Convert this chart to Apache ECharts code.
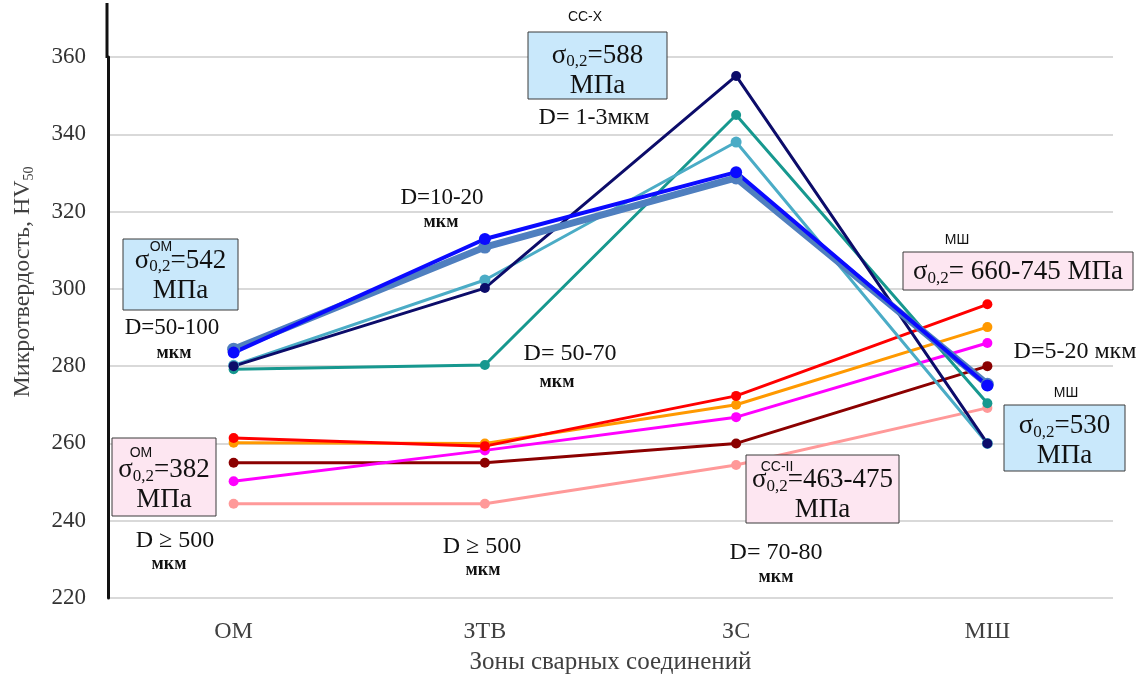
<!DOCTYPE html>
<html>
<head>
<meta charset="utf-8">
<title>Микротвердость</title>
<script src="https://cdn.jsdelivr.net/npm/echarts@6.0.0/dist/echarts.min.js"></script>
<style>
  html, body { margin: 0; padding: 0; background: #fff; }
  #chart { width: 1146px; height: 675px; }
</style>
</head>
<body>
<div id="chart"></div>
<script>
// зоны сварного соединения
const zones = ['ОМ', 'ЗТВ', 'ЗС', 'МШ']

// микротвердость HV50 по зонам
const navy = [280, 300.2, 355.1, 260]
const steel = [284.4, 310.8, 328.7, 275.3]
const blue = [283.5, 312.9, 330.2, 275]
const skyBlue = [280.2, 302.3, 338, 260]
const teal = [279.2, 280.3, 345, 270.4]
const red = [261.4, 259.3, 272.3, 296]
const orange = [260.2, 260, 270, 290.1]
const magenta = [250.2, 258.2, 266.8, 286]
const darkRed = [255, 255, 260, 280]
const pink = [244.4, 244.4, 254.4, 269.2]

const yMin = 220
const yMax = 360
const yStep = 20

const serif = '"Liberation Serif", "DejaVu Serif", serif'
const sans = '"Liberation Sans", Arial, sans-serif'

function line(name, data, color, width, symbolSize) {
  return {
    name: name,
    type: 'line',
    data: data,
    symbol: 'circle',
    symbolSize: symbolSize,
    lineStyle: { color: color, width: width },
    itemStyle: { color: color },
    emphasis: { disabled: true }
  }
}

function txt(x, y, text, size, bold) {
  return {
    type: 'text', x: x, y: y, z: 100,
    style: {
      text: text, fontFamily: serif, fontSize: size, fill: '#111',
      fontWeight: bold ? 'bold' : 'normal',
      align: 'center', verticalAlign: 'middle'
    }
  }
}

function sup(x, y, text) {
  return {
    type: 'text', x: x, y: y, z: 110,
    style: { text: text, fontFamily: sans, fontSize: 14, fill: '#111', align: 'center', verticalAlign: 'middle' }
  }
}

const sigmaRich = {
  m: { fontFamily: serif, fontSize: 27, lineHeight: 30, fill: '#111' },
  s: { fontFamily: serif, fontSize: 17, lineHeight: 14, verticalAlign: 'bottom', fill: '#111' }
}

function box(x, y, w, h, fill, text, dy) {
  return [
    { type: 'rect', z: 90, shape: { x: x, y: y, width: w, height: h },
      style: { fill: fill, stroke: '#3a3a3a', lineWidth: 1 } },
    { type: 'text', z: 100, x: x + w / 2, y: y + h / 2 + 1 + (dy || 0),
      style: { text: text, rich: sigmaRich, align: 'center', verticalAlign: 'middle' } }
  ]
}

const lightBlue = '#c9e8fb'
const lightPink = '#fde6f1'

const graphics = [
  // продолжение оси Y вверх
  { type: 'line', shape: { x1: 107, y1: 3, x2: 107, y2: 58 }, style: { stroke: '#111', lineWidth: 3 } },

  // подпись оси Y
  { type: 'text', x: 23, y: 282, rotation: Math.PI / 2, z: 100,
    style: {
      text: '{a|Микротвердость, HV}{b|50}', align: 'center', verticalAlign: 'middle',
      rich: {
        a: { fontFamily: serif, fontSize: 24, fill: '#404040', lineHeight: 26 },
        b: { fontFamily: serif, fontSize: 14, fill: '#404040', verticalAlign: 'bottom', lineHeight: 12 }
      }
    } },

  ...box(123, 239, 115, 71, lightBlue, '{m|σ}{s|0,2}{m|=542}\n{m|МПа}', 0),
  sup(161, 247, 'ОМ'),
  txt(172, 328, 'D=50-100', 23),
  txt(174, 353, 'мкм', 18, true),

  sup(585, 17, 'СС-Х'),
  ...box(528, 32, 139, 67, lightBlue, '{m|σ}{s|0,2}{m|=588}\n{m|МПа}', 4),
  txt(594, 118, 'D= 1-3мкм', 24),

  txt(442, 198, 'D=10-20', 23),
  txt(441, 222, 'мкм', 18, true),

  txt(570, 354, 'D= 50-70', 24),
  txt(557, 382, 'мкм', 18, true),

  sup(957, 240, 'МШ'),
  ...box(903, 252, 230, 38, lightPink, '{m|σ}{s|0,2}{m|= 660-745 МПа}', 0),
  txt(1075, 352, 'D=5-20 мкм', 24),

  sup(1066, 393, 'МШ'),
  ...box(1004, 405, 121, 66, lightBlue, '{m|σ}{s|0,2}{m|=530}\n{m|МПа}', 2),

  ...box(112, 438, 104, 78, lightPink, '{m|σ}{s|0,2}{m|=382}\n{m|МПа}', 7),
  sup(141, 453, 'ОМ'),
  txt(175, 541, 'D ≥ 500', 24),
  txt(169, 564, 'мкм', 18, true),

  txt(482, 547, 'D ≥ 500', 24),
  txt(483, 570, 'мкм', 18, true),

  ...box(746, 455, 153, 68, lightPink, '{m|σ}{s|0,2}{m|=463-475}\n{m|МПа}', 5),
  sup(777, 467, 'СС-II'),
  txt(776, 553, 'D= 70-80', 24),
  txt(776, 577, 'мкм', 18, true)
]

const chart = echarts.init(document.getElementById('chart'))
chart.setOption({
  animation: false,
  backgroundColor: '#fff',
  grid: { left: 108, right: 33, top: 57, bottom: 77, outerBoundsMode: 'none', containLabel: false },
  xAxis: {
    type: 'category',
    data: zones,
    boundaryGap: true,
    axisLine: { show: false },
    axisTick: { show: false },
    axisLabel: { fontFamily: serif, fontSize: 24, color: '#404040', margin: 22 },
    name: 'Зоны сварных соединений',
    nameLocation: 'middle',
    nameGap: 52,
    nameTextStyle: { fontFamily: serif, fontSize: 25, color: '#404040' }
  },
  yAxis: {
    type: 'value',
    min: yMin,
    max: yMax,
    interval: yStep,
    axisLine: { show: true, lineStyle: { color: '#111', width: 3 } },
    axisTick: { show: false },
    axisLabel: { fontFamily: serif, fontSize: 23, color: '#333', margin: 22 },
    splitLine: { lineStyle: { color: '#d9d9d9', width: 2 } }
  },
  series: [
    line('pink', pink, '#ff9999', 3, 10),
    line('darkRed', darkRed, '#8b0000', 3, 10),
    line('magenta', magenta, '#ff00ff', 3, 10),
    line('orange', orange, '#ff9900', 3, 10),
    line('red', red, '#ff0000', 3, 10),
    line('teal', teal, '#17988f', 3, 10),
    line('skyBlue', skyBlue, '#4bacc6', 3, 11),
    line('navy', navy, '#0c0c6a', 3, 10),
    line('steel', steel, '#4f7fbf', 7, 13),
    line('blue', blue, '#0a0aff', 4, 12)
  ],
  graphic: graphics
})
</script>
</body>
</html>
